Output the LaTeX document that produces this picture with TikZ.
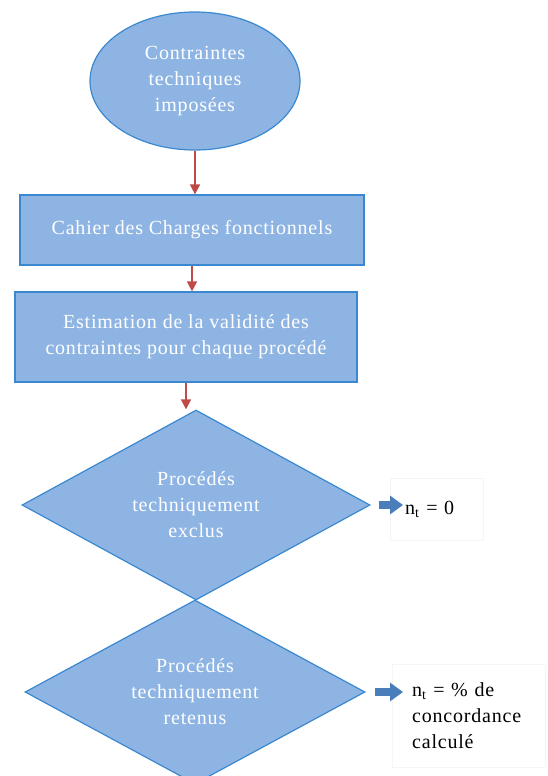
\documentclass[tikz,border=0pt]{standalone}
\usepackage{fontspec}
\setmainfont{Liberation Serif}[LetterSpace=4]
\usetikzlibrary{shapes.geometric,arrows.meta}
\definecolor{boxfill}{HTML}{8EB4E3}
\definecolor{boxline}{HTML}{3A88D0}
\definecolor{arrred}{HTML}{BE4B48}
\definecolor{arrblue}{HTML}{4A7EBB}

\begin{document}
\begin{tikzpicture}[x=1pt,y=-1pt,
  blk/.style={draw=boxline,fill=boxfill,text=white,line width=1.2pt,align=center,inner sep=0pt,font=\fontsize{20}{26}\selectfont},
  note/.style={draw=black!4,fill=white,align=left,inner ysep=0pt,font=\fontsize{20}{26}\selectfont},
  redarr/.style={draw=arrred,line width=1.5pt,-{Triangle[length=10pt,width=10pt]}},
  bluearr/.style={draw=arrblue,line width=8pt,-{Triangle[length=13pt,width=18pt]}}]
\useasboundingbox (0,0) rectangle (547,776);

\node (C)[blk,ellipse,minimum width=210,minimum height=138] at (195,81) {Contraintes\\techniques\\imposées};
\node (R1)[blk,rectangle,minimum width=344,minimum height=70] at (192,230) {Cahier des Charges fonctionnels};
\node (R2)[blk,rectangle,minimum width=342,minimum height=90] at (186,337) {Estimation de la validité des\\contraintes pour chaque procédé};
\node (D1)[blk,diamond,minimum width=348,minimum height=190,aspect=1.83] at (196,505) {Procédés\\techniquement\\exclus};
\node (D2)[blk,diamond,minimum width=340,minimum height=184,aspect=1.85] at (195,692) {Procédés\\techniquement\\retenus};

\node (N1)[note,anchor=west,text width=63,inner xsep=15,minimum height=62] at (390,509) {n\textsubscript{t} = 0};
\node (N2)[note,anchor=west,text width=113,inner xsep=20,minimum height=103] at (392,716) {n\textsubscript{t} = \% de\\concordance\\calculé};

\draw[redarr] (C.south) -- (C.south |- R1.north);
\draw[redarr] (R1.south) -- (R1.south |- R2.north);
\draw[redarr] (R2.south) -- (R2.south |- D1.north);

\draw[bluearr] ([xshift=8]D1.east) -- ([xshift=13]N1.west |- D1.east);
\draw[bluearr] ([xshift=9]D2.east) -- ([xshift=11]N2.west |- D2.east);

\end{tikzpicture}
\end{document}
